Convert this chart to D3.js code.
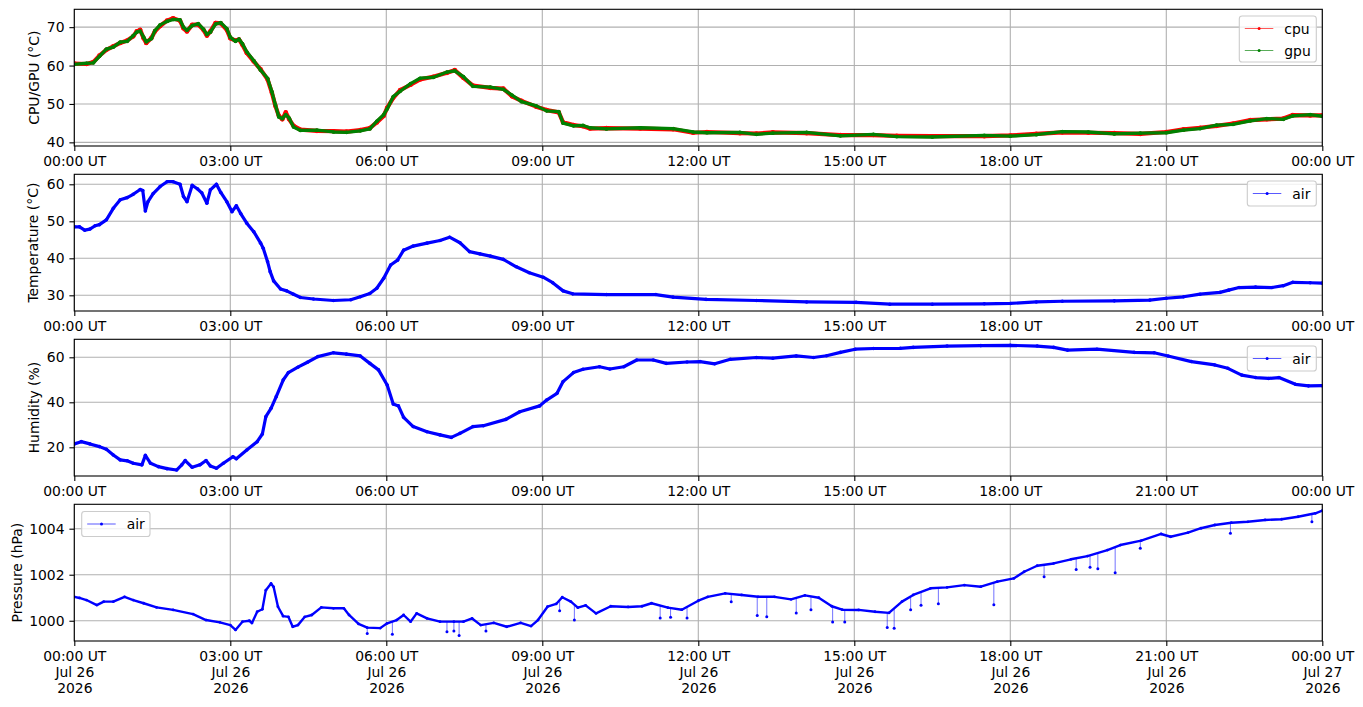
<!DOCTYPE html>
<html><head><meta charset="utf-8">
<script src="https://cdn.jsdelivr.net/npm/d3@7"></script>
<style>body{margin:0;background:#fff} text{font-family:"DejaVu Sans",sans-serif;fill:#000}</style>
</head><body><svg id="c" width="1363" height="707"></svg>
<script>
// ---------- DATA (minutes after 2026-07-26 00:00 UT) ----------
const cpuGpuMinutes = [
  0,14,22,29,37,45,53,61,68,72,
  76,80,83,89,93,99,107,114,122,126,
  130,136,143,149,153,157,163,169,176,180,
  186,190,194,199,207,215,223,228,232,236,
  240,244,248,253,261,280,299,314,330,341,
  349,357,361,368,376,388,399,414,430,439,
  449,460,480,495,505,516,533,545,559,564,
  576,587,595,614,653,691,714,730,768,787,
  806,845,884,922,949,990,1050,1080,1110,1140,
  1170,1200,1230,1260,1280,1299,1318,1337,1357,1376,
  1395,1406,1426,1440];
const cpuValues = [
  60.5,60.4,60.9,62.6,64.1,65.0,65.9,66.5,67.6,68.9,
  69.3,67.1,65.9,67.2,68.9,70.3,71.7,72.3,71.7,69.7,
  68.9,70.6,70.7,69.3,67.8,68.9,71.1,71.0,69.3,67.1,
  66.5,66.8,65.4,63.3,61.1,59.0,56.4,52.9,49.5,46.9,
  46.0,47.8,46.0,44.3,43.3,43.0,42.9,42.8,43.2,43.7,
  45.2,46.9,49.0,51.6,53.6,55.0,56.4,57.1,58.1,58.8,
  56.8,54.8,54.2,54.0,52.0,50.8,49.3,48.4,47.8,45.2,
  44.5,44.2,43.6,43.7,43.6,43.4,42.5,42.7,42.4,42.3,
  42.6,42.4,41.9,41.9,41.7,41.6,41.6,41.8,42.2,42.6,
  42.5,42.4,42.2,42.7,43.4,43.8,44.3,44.9,45.8,46.0,
  46.2,47.1,47.0,47.0];
const gpuValues = [
  60.3,60.6,60.7,62.4,64.3,64.8,66.1,66.3,67.8,68.7,
  69.0,67.4,66.2,67.0,69.1,70.6,71.5,72.0,71.9,70.0,
  69.2,70.4,70.9,69.5,68.1,68.7,70.8,71.2,69.6,67.4,
  66.3,66.9,65.7,63.6,61.3,58.8,56.7,53.2,49.8,46.6,
  46.2,47.2,46.3,44.0,43.1,43.2,42.7,42.6,43.0,43.5,
  45.5,47.2,48.7,51.9,53.3,55.3,56.7,56.9,58.3,58.6,
  57.1,54.6,54.4,53.8,52.3,50.6,49.5,48.2,48.0,45.0,
  44.3,44.4,43.8,43.5,43.8,43.6,42.7,42.5,42.6,42.1,
  42.4,42.6,41.7,42.1,41.5,41.4,41.8,41.6,42.0,42.8,
  42.7,42.2,42.4,42.5,43.2,43.6,44.5,44.7,45.6,46.2,
  46.0,46.9,47.2,46.8];

const tempMinutes = [
  0,6,12,18,24,29,37,45,53,61,
  68,76,79,82,85,91,99,107,114,122,
  126,130,136,142,147,153,157,164,169,176,
  182,187,192,199,207,215,218,223,226,230,
  238,245,253,261,276,299,319,330,341,349,
  357,365,373,380,391,407,422,433,445,456,
  468,480,495,510,525,541,552,564,575,614,
  671,691,729,787,845,902,941,990,1050,1080,
  1110,1140,1200,1241,1260,1280,1299,1322,1332,1344,
  1363,1382,1395,1406,1426,1440];
const tempValues = [
  48.5,48.5,47.6,47.9,48.8,49.1,50.4,53.5,55.8,56.4,
  57.3,58.6,58.3,52.8,55.3,57.5,59.4,60.7,60.7,60.0,
  56.7,55.3,59.7,58.8,57.7,54.9,58.5,60.0,57.8,55.3,
  52.6,54.2,52.1,49.5,47.2,44.1,42.7,39.1,36.4,33.9,
  31.7,31.2,30.3,29.4,29.0,28.6,28.8,29.6,30.5,31.9,
  34.6,38.2,39.5,42.2,43.3,44.1,44.8,45.7,44.2,41.8,
  41.2,40.6,39.7,37.7,36.1,34.9,33.4,31.2,30.4,30.2,
  30.2,29.5,28.9,28.6,28.2,28.1,27.6,27.6,27.7,27.8,
  28.2,28.4,28.5,28.7,29.2,29.6,30.3,30.8,31.4,32.1,
  32.2,32.1,32.6,33.5,33.4,33.3];

const humMinutes = [
  0,8,18,29,37,45,53,61,68,78,
  82,88,97,107,118,124,128,136,145,152,
  157,164,172,183,187,199,211,217,221,227,
  233,241,247,258,269,281,299,314,330,341,
  351,361,368,374,380,391,407,422,435,445,
  460,472,498,514,537,545,557,564,576,587,
  606,618,634,649,668,683,707,722,739,757,
  787,806,833,853,868,884,901,922,953,968,
  1007,1046,1080,1111,1130,1146,1180,1223,1246,1262,
  1289,1316,1331,1347,1363,1378,1390,1409,1424,1440];
const humValues = [
  21.5,22.5,21.5,20.3,19.1,16.6,14.4,14.0,12.9,12.2,
  16.4,12.9,11.4,10.5,9.9,12.2,14.1,11.1,12.2,14.1,
  11.7,10.7,12.9,15.8,14.9,18.8,22.5,25.9,33.6,37.3,
  42.5,49.9,53.2,55.6,57.8,60.3,62.0,61.4,60.6,57.3,
  54.4,47.7,39.2,38.4,33.3,29.2,26.9,25.5,24.4,26.2,
  29.2,29.6,32.4,35.8,38.4,41.0,44.0,49.2,53.2,54.7,
  55.8,54.8,55.8,58.8,58.8,57.3,57.9,58.1,57.1,59.1,
  59.9,59.6,60.6,59.9,60.7,62.2,63.6,63.9,64.0,64.4,
  65.0,65.2,65.3,65.0,64.4,63.2,63.6,62.2,62.0,60.6,
  58.1,56.6,55.1,52.1,51.0,50.6,51.0,48.0,47.3,47.4];

const presMinutes = [
  0,6,14,26,34,45,58,68,80,95,
  114,137,152,168,180,186,194,202,205,211,
  217,221,227,230,235,241,247,252,258,266,
  274,285,299,311,317,328,338,353,361,372,
  380,388,395,407,422,438,449,459,469,484,499,515,527,535,
  546,556,563,573,581,590,602,619,639,655,
  666,685,701,720,731,751,770,789,808,827,
  843,859,874,886,905,924,940,955,968,988,
  1007,1027,1046,1065,1084,1096,1111,1130,1150,1169,
  1192,1207,1231,1254,1265,1285,1300,1316,1335,1354,
  1374,1393,1412,1432,1440];
const presValues = [
  1001.04,1000.99,1000.90,1000.68,1000.83,1000.83,1001.04,1000.90,1000.76,1000.58,
  1000.47,1000.29,1000.03,999.93,999.81,999.60,999.96,1000.00,999.90,1000.39,
  1000.50,1001.33,1001.62,1001.47,1000.61,1000.20,1000.17,999.74,999.81,1000.17,
  1000.25,1000.58,1000.54,1000.54,1000.25,999.86,999.70,999.68,999.89,1000.03,
  1000.25,999.96,1000.32,1000.10,999.96,999.96,999.96,1000.10,999.81,999.91,999.74,999.91,999.77,1000.03,
  1000.61,1000.73,1001.02,1000.83,1000.57,1000.67,1000.32,1000.63,1000.60,1000.63,
  1000.76,1000.57,1000.48,1000.87,1001.04,1001.19,1001.12,1001.04,1001.04,1000.93,
  1001.10,1001.00,1000.63,1000.48,1000.47,1000.39,1000.34,1000.83,1001.12,1001.41,
  1001.45,1001.55,1001.48,1001.70,1001.84,1002.13,1002.39,1002.49,1002.67,1002.81,
  1003.07,1003.29,1003.48,1003.77,1003.65,1003.83,1004.02,1004.16,1004.26,1004.30,
  1004.38,1004.41,1004.52,1004.67,1004.78];
// single low readings (drop-outs) in the pressure record
const presDipMinutes = [338,367,430,438,444,475,560,577,676,688,707,758,788,799,833,850,875,889,938,946,965,977,997,1061,1119,1156,1172,1181,1201,1230,1334,1428];
const presDipValues  = [999.45,999.41,999.52,999.55,999.36,999.55,1000.43,1000.03,1000.12,1000.15,1000.12,1000.83,1000.23,1000.17,1000.34,1000.48,999.95,999.95,999.71,999.67,1000.48,1000.67,1000.74,1000.70,1001.91,1002.23,1002.32,1002.26,1002.09,1003.15,1003.80,1004.30];

const tickHours = [0,3,6,9,12,15,18,21,24];
const yLabels = ["CPU/GPU (\u00B0C)","Temperature (\u00B0C)","Humidity (%)","Pressure (hPa)"];
const yTicks = [[40,50,60,70],[30,40,50,60],[20,40,60],[1000,1002,1004]];
const yDomains = [[39.05,74.65],[25.76,62.7],[7.24,68],[999.12,1005.06]];

// ---------- LAYOUT ----------
const svg = d3.select("#c");
const X0 = 74.3, X1 = 1322.3, H = 136.7;
const tops = [9.3,174.3,339.3,504.3];
const labelX = [34,32.5,34,16.5];
const FS = 13.9;
const t0 = Date.UTC(2026,6,26);
const toDate = m => new Date(t0 + m*60000);
const x = d3.scaleUtc().domain([toDate(0), toDate(1440)]).range([X0, X1]);
const tickDates = tickHours.map(h => toDate(h*60));
const fmtTime = d3.utcFormat("%H:%M UT"), fmtDay = d3.utcFormat("%b %d"), fmtYear = d3.utcFormat("%Y");

function makePanel(i){
  const top = tops[i], bottom = top + H;
  const y = d3.scaleLinear().domain(yDomains[i]).range([bottom, top]);
  const g = svg.append("g");
  const cid = "clip" + i;
  svg.append("clipPath").attr("id", cid).append("rect")
    .attr("x", X0).attr("y", top).attr("width", X1 - X0).attr("height", H);
  const grid = g.append("g").attr("stroke", "#b0b0b0").attr("stroke-width", 1.1);
  grid.selectAll(".vx").data(tickDates).enter().append("line")
    .attr("x1", d => x(d)).attr("x2", d => x(d)).attr("y1", top).attr("y2", bottom);
  grid.selectAll(".hy").data(yTicks[i]).enter().append("line")
    .attr("x1", X0).attr("x2", X1).attr("y1", d => y(d)).attr("y2", d => y(d));
  const xa = d3.axisBottom(x).tickValues(tickDates).tickSize(4.9).tickSizeOuter(0).tickPadding(4.9)
    .tickFormat(i === 3 ? () => "" : fmtTime);
  const gx = g.append("g").attr("transform", `translate(0,${bottom})`).call(xa);
  const ya = d3.axisLeft(y).tickValues(yTicks[i]).tickSize(4.9).tickSizeOuter(0).tickPadding(4.9).tickFormat(d3.format("d"));
  const gy = g.append("g").attr("transform", `translate(${X0},0)`).call(ya);
  [gx, gy].forEach(a => {
    a.select(".domain").remove();
    a.selectAll("line").attr("stroke", "#000").attr("stroke-width", 1.1);
    a.selectAll("text").attr("font-size", FS).attr("font-family", "DejaVu Sans").attr("fill", "#000");
  });
  if (i === 3) {
    gx.selectAll(".tick text").each(function(d){
      const t = d3.select(this);
      t.text(null);
      [fmtTime(d), fmtDay(d).replace(" 0"," "), fmtYear(d)].forEach((s, k) =>
        t.append("tspan").attr("x", 0).attr("dy", k === 0 ? "0.71em" : "1.17em").text(s));
    });
  }
  g.append("text").attr("transform", `translate(${labelX[i]},${top + H/2}) rotate(-90)`)
    .attr("text-anchor", "middle").attr("dominant-baseline", "central")
    .attr("font-size", FS).text(yLabels[i]);
  const plot = g.append("g").attr("clip-path", `url(#${cid})`);
  const frame = () => g.append("rect").attr("x", X0).attr("y", top).attr("width", X1 - X0).attr("height", H)
    .attr("fill", "none").attr("stroke", "#000").attr("stroke-width", 1.1);
  return {g, y, plot, top, bottom, frame};
}

function drawSeries(p, mins, vals, color, width){
  const data = mins.map((m, k) => [toDate(m), vals[k]]);
  const line = d3.line().x(d => x(d[0])).y(d => p.y(d[1]));
  p.plot.append("path").datum(data).attr("d", line).attr("fill", "none")
    .attr("stroke", color).attr("stroke-width", width).attr("stroke-linejoin", "round").attr("stroke-linecap", "round");
  p.plot.selectAll(null).data(data).enter().append("circle")
    .attr("cx", d => x(d[0])).attr("cy", d => p.y(d[1])).attr("r", width/2 + 0.2).attr("fill", color);
}

function legend(p, x0, y0, w, entries){
  const lg = p.g.append("g");
  lg.append("rect").attr("x", x0).attr("y", y0).attr("width", w).attr("height", entries.length === 1 ? 25 : 46)
    .attr("rx", 2.8).attr("fill", "#fff").attr("fill-opacity", 0.8).attr("stroke", "#cccccc").attr("stroke-width", 1.1);
  entries.forEach((e, k) => {
    const cy = y0 + 12.5 + k * 22;
    lg.append("line").attr("x1", x0 + 5.5).attr("x2", x0 + 34).attr("y1", cy).attr("y2", cy)
      .attr("stroke", e.color).attr("stroke-opacity", 0.65).attr("stroke-width", 1);
    lg.append("circle").attr("cx", x0 + 19.8).attr("cy", cy).attr("r", 1.5).attr("fill", e.color);
    lg.append("text").attr("x", x0 + 45).attr("y", cy).attr("dominant-baseline", "central")
      .attr("font-size", FS).text(e.name);
  });
}

// Panel 1: CPU / GPU
const p1 = makePanel(0);
drawSeries(p1, cpuGpuMinutes, cpuValues, "#ff0000", 4.2);
drawSeries(p1, cpuGpuMinutes, gpuValues, "#008000", 3.3);
p1.frame();
legend(p1, 1239.3, 16, 77, [{name:"cpu", color:"#ff0000"}, {name:"gpu", color:"#008000"}]);

// Panel 2: temperature
const p2 = makePanel(1);
drawSeries(p2, tempMinutes, tempValues, "#0000ff", 3.2);
p2.frame();
legend(p2, 1247.3, 181, 69, [{name:"air", color:"#0000ff"}]);

// Panel 3: humidity
const p3 = makePanel(2);
drawSeries(p3, humMinutes, humValues, "#0000ff", 3.2);
p3.frame();
legend(p3, 1247.3, 346, 69, [{name:"air", color:"#0000ff"}]);

// Panel 4: pressure
const p4 = makePanel(3);
drawSeries(p4, presMinutes, presValues, "#0000ff", 2.4);
const bis = d3.bisector(d => d).left;
presDipMinutes.forEach((m, k) => {
  const j = Math.max(1, bis(presMinutes, m));
  const a = presMinutes[j-1], b = presMinutes[j];
  const base = presValues[j-1] + (presValues[j] - presValues[j-1]) * (m - a) / (b - a);
  p4.plot.append("line").attr("x1", x(toDate(m))).attr("x2", x(toDate(m)))
    .attr("y1", p4.y(base)).attr("y2", p4.y(presDipValues[k]))
    .attr("stroke", "#0000ff").attr("stroke-opacity", 0.7).attr("stroke-width", 0.8);
  p4.plot.append("circle").attr("cx", x(toDate(m))).attr("cy", p4.y(presDipValues[k])).attr("r", 1.5).attr("fill", "#0000ff");
});
p4.frame();
legend(p4, 81.7, 511.5, 68.3, [{name:"air", color:"#0000ff"}]);
</script></body></html>
